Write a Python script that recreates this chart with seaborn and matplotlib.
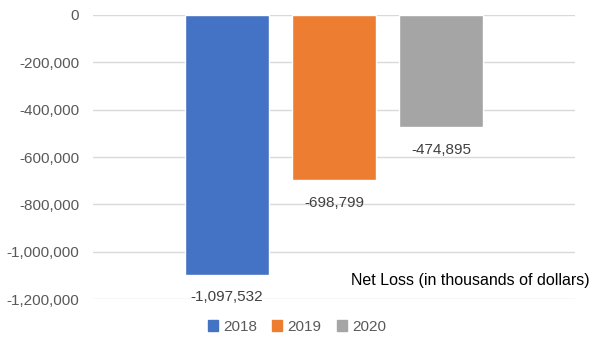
import matplotlib
matplotlib.use("Agg")
import matplotlib.pyplot as plt
import seaborn as sns
import pandas as pd
from matplotlib.ticker import FuncFormatter

years = ["2018", "2019", "2020"]
net_loss = [-1097532, -698799, -474895]
colors = ["#4472C4", "#ED7D31", "#A5A5A5"]
y_ticks = [0, -200000, -400000, -600000, -800000, -1000000, -1200000]

sns.set_theme(style="white")
plt.rcParams["font.family"] = ["Liberation Sans", "DejaVu Sans"]

df = pd.DataFrame({"year": years, "loss": net_loss})

fig = plt.figure(figsize=(6.0, 3.47), dpi=100)
ax = fig.add_axes([0.155, 0.138, 0.803, 0.819])

sns.barplot(data=df, x="year", y="loss", hue="year", palette=colors,
            dodge=False, width=0.78, ax=ax, legend=False, saturation=1)

ax.set_ylim(-1200000, 0)
ax.set_xlim(-1.25, 3.25)
ax.set_yticks(y_ticks)
ax.yaxis.set_major_formatter(FuncFormatter(lambda v, p: f"{int(v):,}"))
ax.set_xticks([])
ax.set_xlabel("")
ax.set_ylabel("")
ax.grid(axis="y", color="#D9D9D9", linewidth=1)
ax.set_axisbelow(True)
for s in ax.spines.values():
    s.set_visible(False)
ax.tick_params(axis="y", length=0, pad=10, labelsize=11, labelcolor="#595959")

for i, v in enumerate(net_loss):
    ax.annotate(f"{v:,}", xy=(i, v), xytext=(0, -16), textcoords="offset points",
                ha="center", va="center", fontsize=11, color="#404040")

fig.text(0.982, 0.193, "Net Loss (in thousands of dollars)", ha="right",
         va="center", fontsize=11.5, color="black")

handles = [plt.Rectangle((0, 0), 1, 1, color=c) for c in colors]
fig.legend(handles, years, loc="center", bbox_to_anchor=(0.495, 0.058), ncol=3,
           frameon=False, handlelength=0.65, handleheight=0.65, handletextpad=0.35,
           columnspacing=1.0, prop={"size": 11}, labelcolor="#595959")

fig.savefig("out.png", dpi=100)
